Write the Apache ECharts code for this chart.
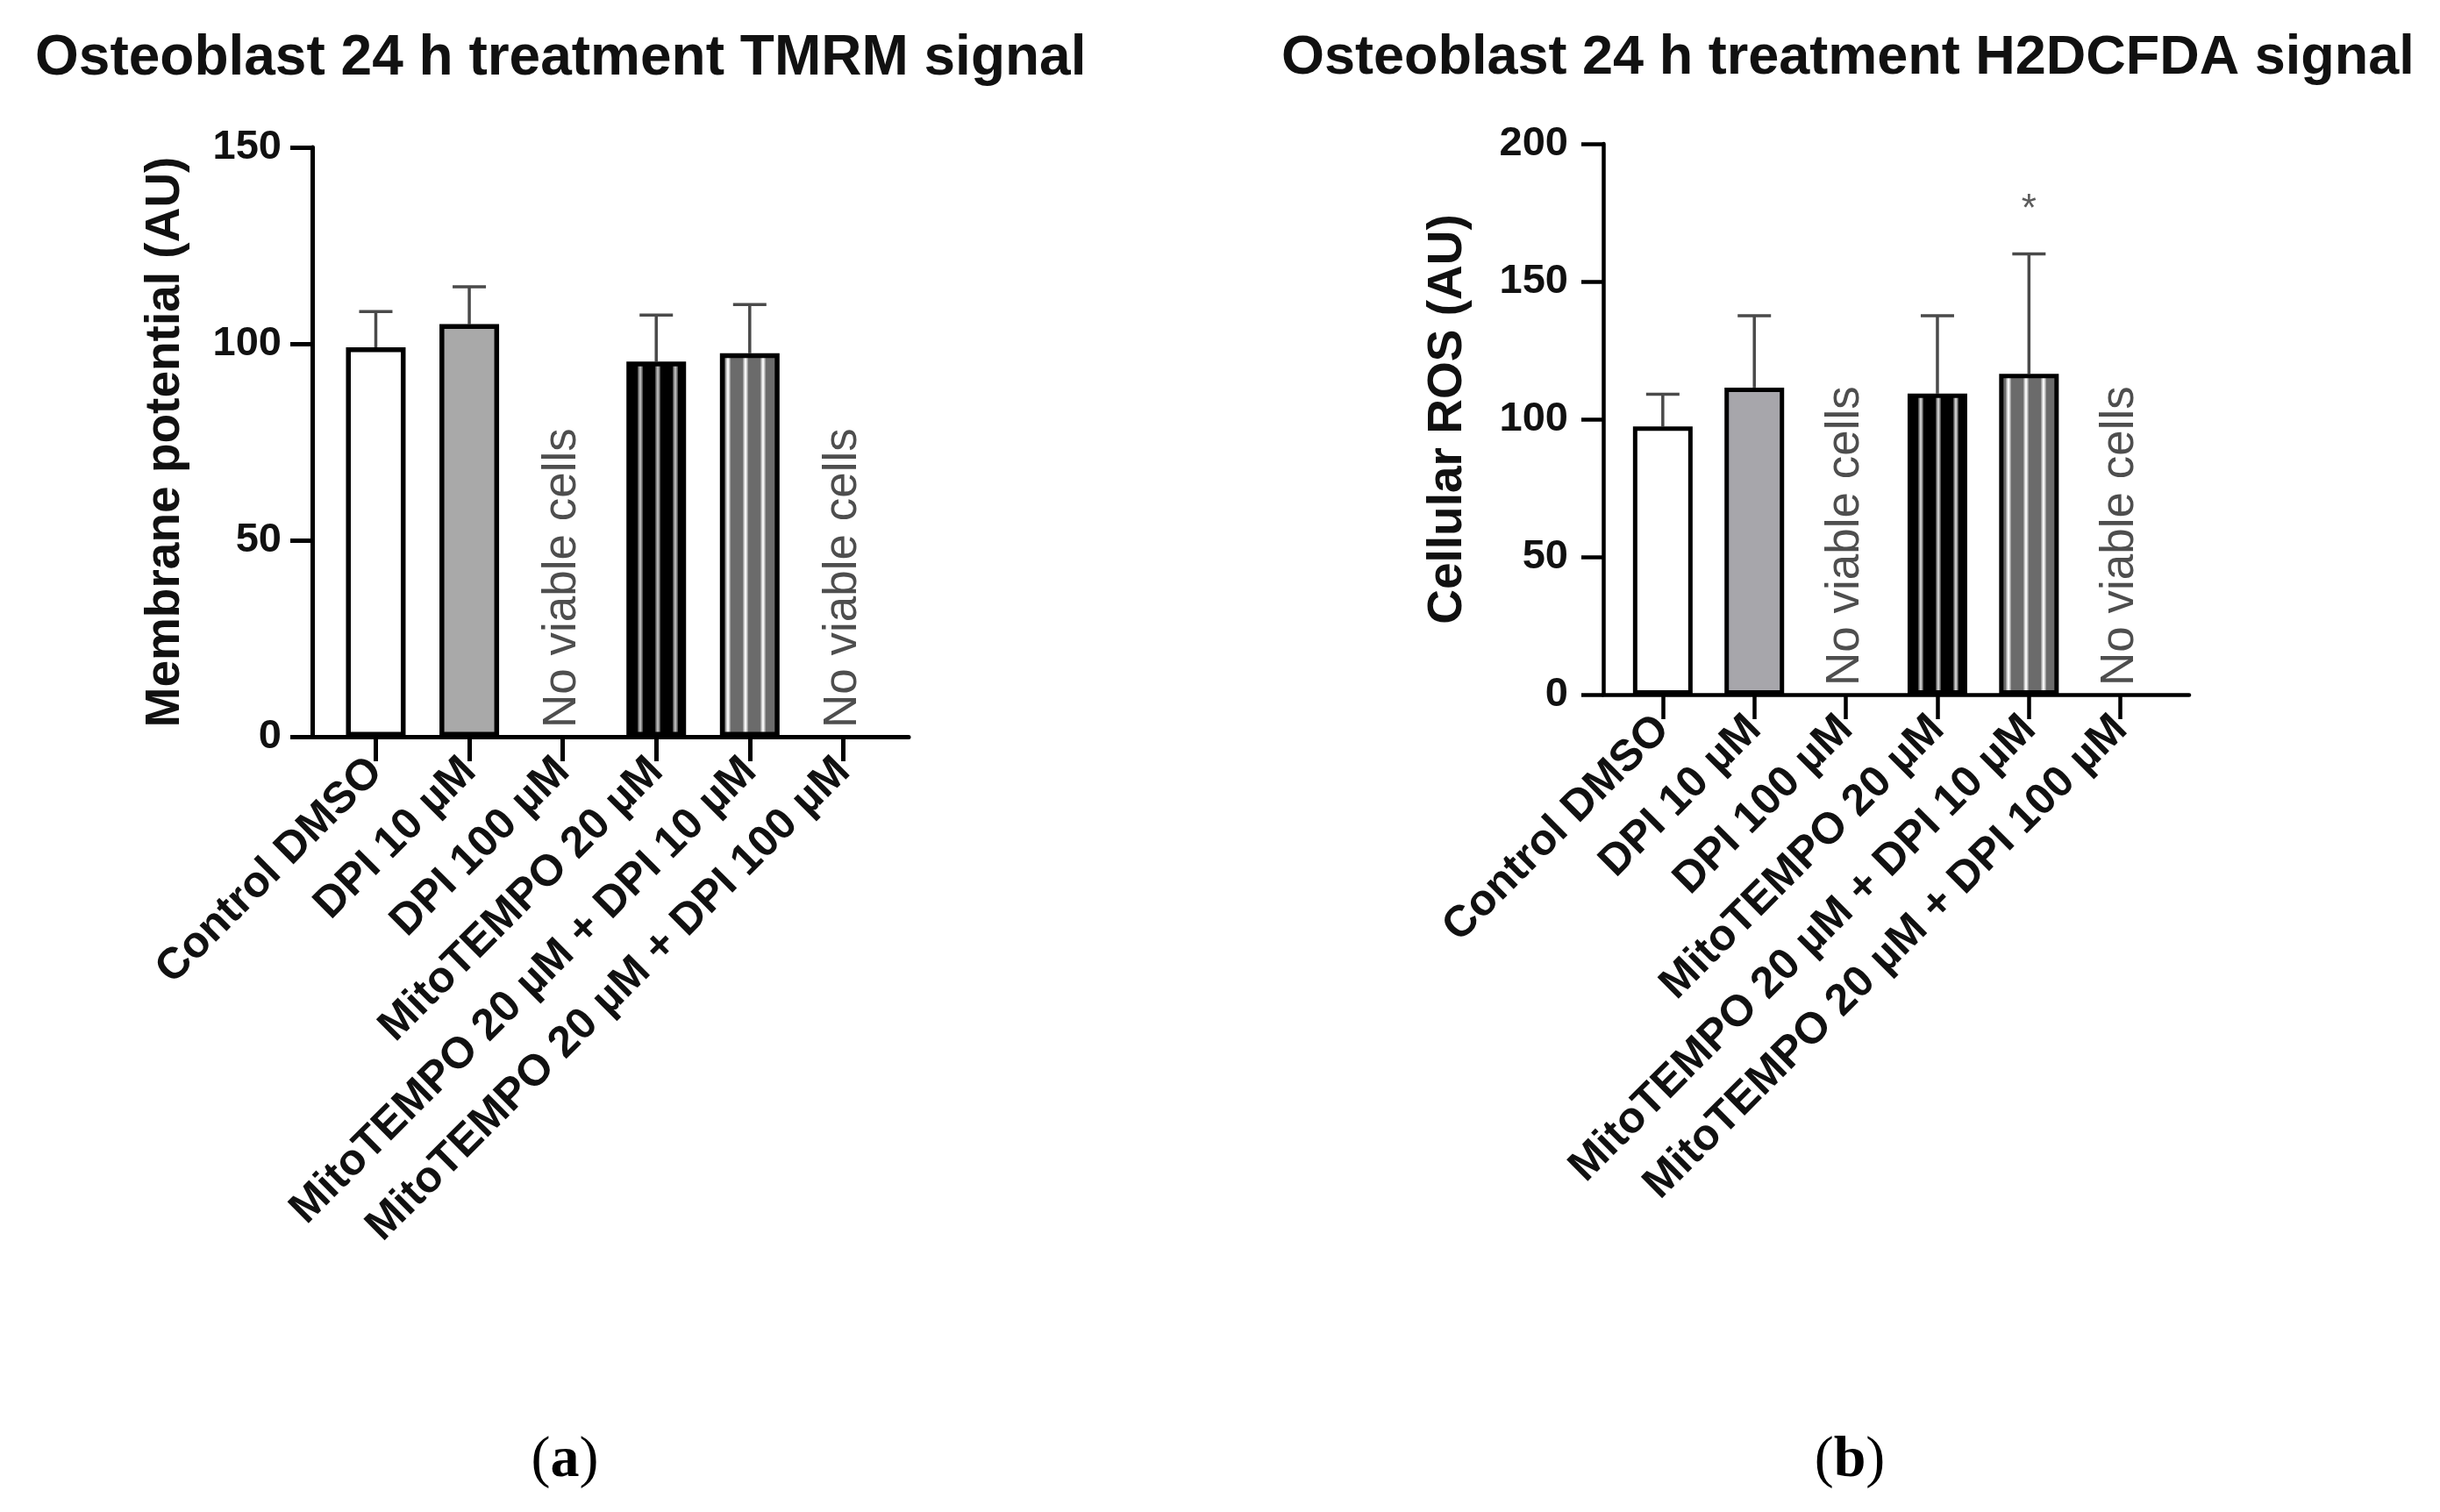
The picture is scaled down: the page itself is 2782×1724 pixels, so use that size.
<!DOCTYPE html>
<html>
<head>
<meta charset="utf-8">
<script src="https://cdn.jsdelivr.net/npm/echarts@6/dist/echarts.min.js"></script>
<style>
html,body{margin:0;padding:0;background:#fff;}
#main{width:2782px;height:1724px;}
</style>
</head>
<body>
<div id="main"></div>
<script>
// ---- data ----
const categories = ['Control DMSO', 'DPI 10 µM', 'DPI 100 µM', 'MitoTEMPO 20 µM',
  'MitoTEMPO 20 µM + DPI 10 µM', 'MitoTEMPO 20 µM + DPI 100 µM'];
const tmrmMean = [99.1, 105.0, null, 95.5, 97.6, null];
const tmrmErr  = [9.1, 9.5, null, 11.8, 12.4, null];
const rosMean  = [97.4, 111.5, null, 109.3, 116.5, null];
const rosErr   = [11.7, 26.1, null, 28.3, 43.5, null];
const rosSig   = ['', '', '', '', '*', ''];
const tmrmSig  = ['', '', '', '', '', ''];
const noDataText = 'No viable cells';
const titles = ['Osteoblast 24 h treatment TMRM signal', 'Osteoblast 24 h treatment H2DCFDA signal'];
const yNames = ['Membrane potential (AU)', 'Cellular ROS (AU)'];
const yMax = [150, 200];
const yStep = 50;

// ---- patterns ----
function stripe(base, mid, edge) {
  const c = document.createElement('canvas');
  c.width = 20; c.height = 8;
  const g = c.getContext('2d');
  g.fillStyle = base; g.fillRect(0, 0, 20, 8);
  g.fillStyle = edge; g.fillRect(7, 0, 6, 8);
  g.fillStyle = mid; g.fillRect(8.5, 0, 3, 8);
  return { image: c, repeat: 'repeat' };
}
const fillsL = ['#ffffff', '#a9a9a9', '#ffffff', stripe('#000000', '#b4b4b4', '#555555'), stripe('#6b6b6b', '#f4f4f4', '#a0a0a0'), '#ffffff'];
const fillsR = ['#ffffff', '#a7a6ab', '#ffffff', stripe('#000000', '#c8c8c8', '#555555'), stripe('#6b6b6b', '#f4f4f4', '#a0a0a0'), '#ffffff'];

const FONT = 'Liberation Sans, Arial, sans-serif';
const idx = categories.map((_, i) => i);

const panels = [
  { mean: tmrmMean, err: tmrmErr, sig: tmrmSig, fills: fillsL, left: 356, top: 168, width: 680, height: 672,
    xmin: -0.68, xmax: 5.70, lw: 5, labelMargin: 35, nameGap: 140, titleLeft: 35, titleSize: 64 },
  { mean: rosMean, err: rosErr, sig: rosSig, fills: fillsR, left: 1828, top: 164, width: 668, height: 628,
    xmin: -0.65, xmax: 5.75, lw: 4.5, labelMargin: 40, nameGap: 150, titleLeft: 1456, titleSize: 63 }
];

const grid = [], xAxis = [], yAxis = [], series = [], title = [];
panels.forEach((p, k) => {
  grid.push({ left: p.left, top: p.top, width: p.width, height: p.height, containLabel: false });
  xAxis.push({
    type: 'value', gridIndex: k, min: p.xmin, max: p.xmax,
    splitLine: { show: false },
    axisLine: { show: true, onZero: false, lineStyle: { color: '#000', width: p.lw } },
    axisTick: { show: true, customValues: idx, length: 28, lineStyle: { color: '#000', width: p.lw } },
    axisLabel: {
      customValues: idx, rotate: 45, margin: 32, color: '#111',
      fontFamily: FONT, fontWeight: 'bold', fontSize: 50,
      formatter: v => categories[Math.round(v)]
    }
  });
  yAxis.push({
    type: 'value', gridIndex: k, min: 0, max: yMax[k], interval: yStep,
    name: yNames[k], nameLocation: 'middle', nameGap: p.nameGap,
    nameTextStyle: { fontFamily: FONT, fontWeight: 'bold', fontSize: 55, color: '#111' },
    splitLine: { show: false },
    axisLine: { show: true, onZero: false, lineStyle: { color: '#000', width: p.lw } },
    axisTick: { show: true, length: 25, lineStyle: { color: '#000', width: p.lw } },
    axisLabel: { margin: p.labelMargin, fontFamily: FONT, fontWeight: 'bold', fontSize: 47, color: '#111' }
  });
  // error bars (behind bars)
  series.push({
    type: 'custom', xAxisIndex: k, yAxisIndex: k, z: 1, silent: true,
    data: idx.filter(i => p.mean[i] != null).map(i => [i, p.mean[i], p.err[i]]),
    renderItem: (params, api) => {
      const x = api.value(0), m = api.value(1), e = api.value(2);
      const a = api.coord([x, m]), b = api.coord([x, m + e]);
      const hw = 19;
      const st = { stroke: '#4a4a4a', lineWidth: 3.5 };
      return { type: 'group', children: [
        { type: 'line', shape: { x1: a[0], y1: a[1], x2: b[0], y2: b[1] }, style: st },
        { type: 'line', shape: { x1: b[0] - hw, y1: b[1], x2: b[0] + hw, y2: b[1] }, style: st }
      ] };
    }
  });
  series.push({
    type: 'bar', xAxisIndex: k, yAxisIndex: k, z: 2, barWidth: 68, barMaxWidth: 80, silent: true,
    data: idx.filter(i => p.mean[i] != null).map(i => ({
      value: [i, p.mean[i]],
      itemStyle: { color: p.fills[i], borderColor: '#000', borderWidth: p.lw + 0.5 }
    }))
  });
  // "No viable cells" labels
  series.push({
    type: 'scatter', xAxisIndex: k, yAxisIndex: k, z: 3, symbolSize: 0, silent: true,
    itemStyle: { color: 'transparent' },
    data: idx.filter(i => p.mean[i] == null).map(i => [i, 0]),
    label: { show: true, formatter: noDataText, position: 'top', distance: 10, rotate: 90,
      align: 'left', verticalAlign: 'middle', fontFamily: FONT, fontSize: 53, color: '#222' }
  });
  // significance marks
  series.push({
    type: 'scatter', xAxisIndex: k, yAxisIndex: k, z: 3, symbolSize: 0, silent: true,
    itemStyle: { color: 'transparent' },
    data: idx.filter(i => p.sig[i]).map(i => ({ value: [i, p.mean[i] + p.err[i]], name: p.sig[i] })),
    label: { show: true, formatter: d => d.name, position: 'top', distance: 28,
      fontFamily: FONT, fontSize: 44, color: '#333' }
  });
  title.push({ text: titles[k], left: p.titleLeft, top: 30,
    textStyle: { fontFamily: FONT, fontWeight: 'bold', fontSize: p.titleSize, color: '#111' } });
});
const capRich = {
  p: { fontFamily: 'Liberation Serif, serif', fontSize: 66, fontWeight: 'normal', color: '#000' },
  b: { fontFamily: 'Liberation Serif, serif', fontSize: 66, fontWeight: 'bold', color: '#000' }
};
title.push({ text: '{p|(}{b|a}{p|)}', left: 639, top: 1628, textAlign: 'center',
  textStyle: { fontWeight: 'normal', rich: capRich } });
title.push({ text: '{p|(}{b|b}{p|)}', left: 2104, top: 1628, textAlign: 'center',
  textStyle: { fontWeight: 'normal', rich: capRich } });

const chart = echarts.init(document.getElementById('main'), null, { renderer: 'canvas' });
chart.setOption({ animation: false, backgroundColor: '#fff', title, grid, xAxis, yAxis, series });
</script>
</body>
</html>
